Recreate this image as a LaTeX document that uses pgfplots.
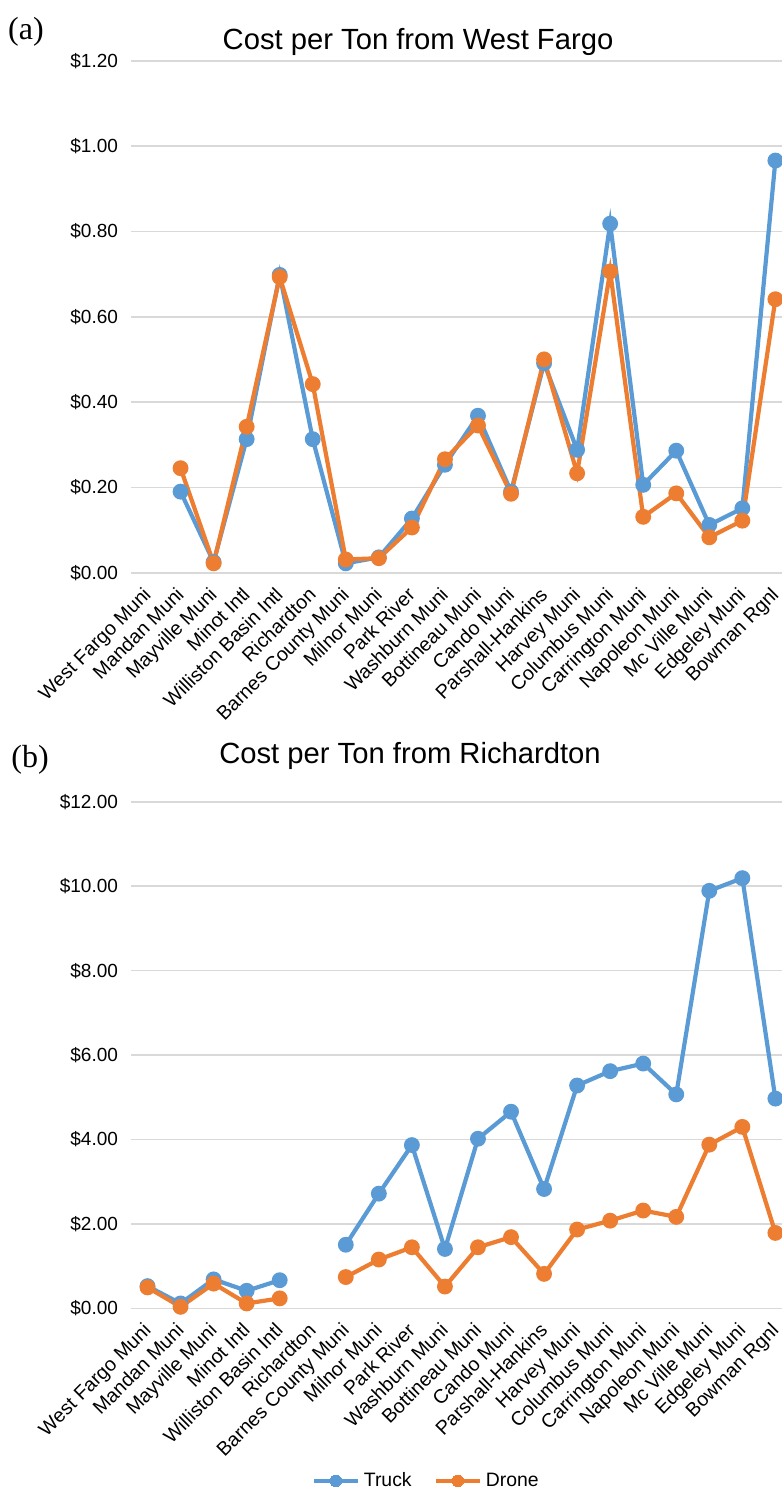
\documentclass[border=0pt]{standalone}
\usepackage{pgfplots}
\pgfplotsset{compat=1.18}
\usepackage{fontspec}
\setmainfont{Liberation Sans}
\newfontfamily\seriffont{Liberation Serif}
\definecolor{truckc}{HTML}{5B9BD5}
\definecolor{dronec}{HTML}{ED7D31}
\definecolor{gridc}{HTML}{D9D9D9}
\pgfplotsset{
 common/.style={
  scale only axis, width=325.5pt,
  xmin=-0.5, xmax=19.2, ymin=0,
  xtick={0,...,19},
  xticklabels={West Fargo Muni,Mandan Muni,Mayville Muni,Minot Intl,Williston Basin Intl,Richardton,Barnes County Muni,Milnor Muni,Park River,Washburn Muni,Bottineau Muni,Cando Muni,Parshall-Hankins,Harvey Muni,Columbus Muni,Carrington Muni,Napoleon Muni,Mc Ville Muni,Edgeley Muni,Bowman Rgnl},
  xticklabel style={rotate=45, anchor=north east, font=\fontsize{9.8}{10}\selectfont, inner sep=1pt, yshift=-1.5pt, xshift=-5.5pt},
  yticklabel style={font=\fontsize{9.5}{10}\selectfont, xshift=-3pt},
  axis line style={draw=none},
  major tick length=0pt,
  ymajorgrids, grid style={gridc, line width=0.8pt},
  /pgf/number format/assume math mode=true,
  clip=false,
  unbounded coords=jump,
 },
 truck/.style={color=truckc, line width=2.1pt, mark=*, mark size=2.9pt, mark options={solid}},
 drone/.style={color=dronec, line width=2.1pt, mark=*, mark size=2.9pt, mark options={solid}},
}
\begin{document}
\begin{tikzpicture}[x=1pt,y=1pt]
\path[use as bounding box] (0,0) rectangle (391,-750.5);
% Panel (a)
\begin{axis}[common, at={(65.5pt,-286.35pt)}, anchor=south west, height=256pt,
  ymax=1.2, ytick={0,0.2,0.4,0.6,0.8,1.0,1.2},
  yticklabels={\$0.00,\$0.20,\$0.40,\$0.60,\$0.80,\$1.00,\$1.20}]
\addplot[truck] coordinates {(1,0.19) (2,0.025) (3,0.313) (4,0.698) (5,0.313) (6,0.022) (7,0.036) (8,0.127) (9,0.253) (10,0.368) (11,0.19) (12,0.491) (13,0.288) (14,0.818) (15,0.206) (16,0.286) (17,0.112) (18,0.151) (19,0.966)};
\addplot[drone] coordinates {(1,0.245) (2,0.022) (3,0.342) (4,0.693) (5,0.442) (6,0.031) (7,0.034) (8,0.106) (9,0.266) (10,0.345) (11,0.185) (12,0.50) (13,0.233) (14,0.706) (15,0.131) (16,0.186) (17,0.083) (18,0.122) (19,0.641)};
\end{axis}
% Panel (b)
\begin{axis}[common, at={(65.5pt,-654.25pt)}, anchor=south west, height=253.4pt,
  ymax=12, ytick={0,2,4,6,8,10,12},
  yticklabels={\$0.00,\$2.00,\$4.00,\$6.00,\$8.00,\$10.00,\$12.00},
  legend style={draw=none, legend columns=2, at={(0.455,-0.34)}, anchor=center, font=\fontsize{9.7}{10}\selectfont, /tikz/every even column/.append style={column sep=9pt}},
  legend image code/.code={\draw[#1, mark=none] (0pt,0pt) -- (22pt,0pt); \draw[#1, line width=0pt] plot coordinates {(11pt,0pt)};}]
\addplot[truck] coordinates {(0,0.53) (1,0.12) (2,0.69) (3,0.42) (4,0.67) (5,nan) (6,1.51) (7,2.72) (8,3.87) (9,1.41) (10,4.02) (11,4.66) (12,2.83) (13,5.28) (14,5.62) (15,5.80) (16,5.07) (17,9.89) (18,10.19) (19,4.97)};
\addplot[drone] coordinates {(0,0.50) (1,0.04) (2,0.59) (3,0.12) (4,0.24) (5,nan) (6,0.745) (7,1.16) (8,1.45) (9,0.52) (10,1.45) (11,1.69) (12,0.82) (13,1.87) (14,2.08) (15,2.32) (16,2.17) (17,3.88) (18,4.30) (19,1.79)};
\legend{Truck,Drone}
\end{axis}
\node[font=\fontsize{14.6}{16}\selectfont] at (209,-21) {Cost per Ton from West Fargo};
\node[font=\seriffont\fontsize{16}{18}\selectfont] at (13,-16) {(a)};
\node[font=\fontsize{14.6}{16}\selectfont] at (205,-378) {Cost per Ton from Richardton};
\node[font=\seriffont\fontsize{16}{18}\selectfont] at (15,-380) {(b)};
\end{tikzpicture}
\end{document}
